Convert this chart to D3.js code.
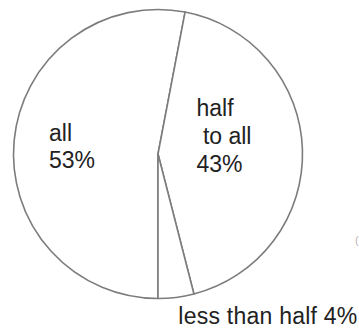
<!DOCTYPE html>
<html>
<head>
<meta charset="utf-8">
<script src="https://cdn.jsdelivr.net/npm/d3@7"></script>
<style>
  html, body { margin: 0; padding: 0; background: #fff; }
  svg { display: block; }
  text { font-family: "Liberation Sans", Arial, sans-serif; }
</style>
</head>
<body>
<svg id="chart" width="359" height="330"></svg>
<script>
const categories = ["all", "half to all", "less than half"];
const values = [53, 43, 4];
const labelLines = [["all", "53%"], ["half", " to all", "43%"], ["less than half 4%"]];

const svg = d3.select("#chart");
const cx = 158, cy = 154, r = 144.5;
const g = svg.append("g").attr("transform", `translate(${cx},${cy})`);

const pie = d3.pie().sort(null).startAngle(Math.PI).endAngle(3 * Math.PI);
const arcs = pie(values);
const arc = d3.arc().innerRadius(0).outerRadius(r);

g.selectAll("path.slice").data(arcs).enter().append("path")
  .attr("class", "slice")
  .attr("d", arc)
  .attr("fill", "#ffffff")
  .attr("stroke", "#7c7c7c")
  .attr("stroke-width", 1.6)
  .attr("stroke-linejoin", "round");

const fs = 23;
const labelPos = [
  { x: -109, y: -13.5, lh: 27.6, anchor: "start" },
  { x: 38.5, y: -38.5, lh: 28, anchor: "start" },
  { x: 20.3, y: 170.3, lh: 0, anchor: "start", len: 179 }
];
const labels = g.selectAll("text.lbl").data(categories).enter().append("text")
  .attr("class", "lbl")
  .attr("x", (d, i) => labelPos[i].x)
  .attr("y", (d, i) => labelPos[i].y)
  .attr("text-anchor", (d, i) => labelPos[i].anchor)
  .attr("fill", "#222")
  .attr("font-size", fs)
  .style("white-space", "pre");
labels.each(function(d, i) {
  const t = d3.select(this);
  labelLines[i].forEach((line, j) => {
    const ts = t.append("tspan")
      .attr("x", labelPos[i].x)
      .attr("dy", j === 0 ? 0 : labelPos[i].lh)
      .text(line);
    if (labelPos[i].len) ts.attr("textLength", labelPos[i].len).attr("lengthAdjust", "spacing");
  });
});

// clipped stray glyph at right edge
svg.append("text").attr("x", 355).attr("y", 244).attr("font-size", 11)
  .attr("fill", "#b5b5b5").text("(");
</script>
</body>
</html>
